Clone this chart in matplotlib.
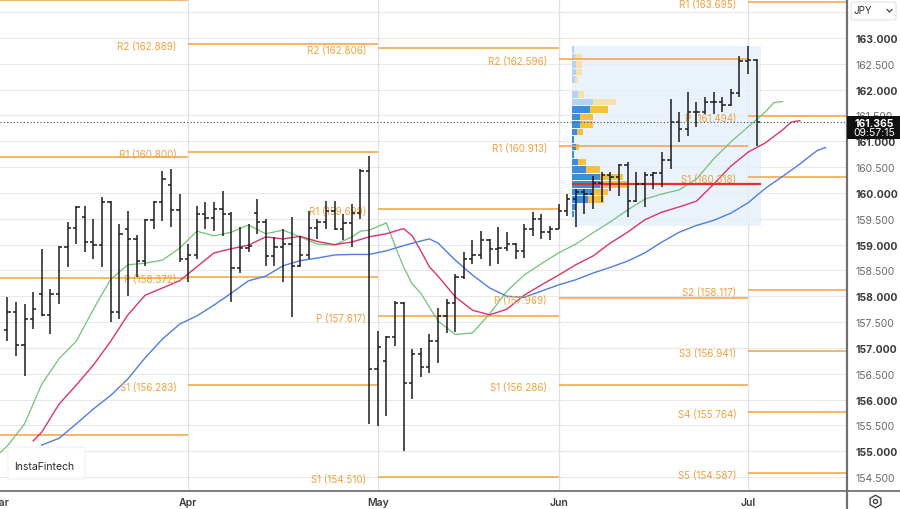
import numpy as np
import matplotlib
matplotlib.use('Agg')
import matplotlib.pyplot as plt
from matplotlib.patches import Rectangle, FancyBboxPatch
from matplotlib.lines import Line2D
import matplotlib.transforms as mtransforms

plt.rcParams['font.family'] = ['Inter', 'DejaVu Sans']

# ---------------- data ----------------
months = ['Mar', 'Apr', 'May', 'Jun', 'Jul']
month_idx = [-1, 21, 43, 64, 86]

opens = [157.35, 157.69, 157.06, 157.56, 158.04, 157.64, 158.04, 158.95, 159.32, 159.53,
         159.06, 158.99, 159.83, 157.69, 159.30, 159.11, 158.69, 159.48, 159.82, 160.15,
         159.67, 158.72, 158.79, 159.59, 159.51, 159.68, 159.59, 158.54, 158.93, 159.61,
         159.44, 158.77, 158.95, 159.01, 158.59, 158.80, 159.32, 159.44, 159.65, 159.30,
         159.41, 159.61, 160.43, 156.59, 156.75, 157.22, 157.87, 156.33, 156.88, 156.64,
         157.14, 157.61, 157.86, 158.37, 158.72, 158.79, 159.08, 158.92, 158.93, 159.01,
         158.88, 159.30, 159.50, 159.25, 159.30, 159.66, 159.88, 160.01, 159.98, 160.19,
         160.35, 160.31, 160.54, 159.84, 160.18, 160.35, 160.39, 160.63, 161.37, 161.24,
         161.56, 161.56, 161.76, 161.76, 161.70, 161.93, 162.55, 162.57]
highs = [157.99, 157.89, 157.85, 158.09, 158.92, 158.14, 158.98, 159.43, 159.75, 159.75,
         159.50, 159.92, 159.85, 159.40, 159.66, 159.19, 159.50, 159.85, 160.43, 160.46,
         159.98, 159.01, 159.75, 159.82, 159.82, 160.04, 159.63, 159.34, 159.40, 159.88,
         159.50, 159.15, 159.30, 159.53, 159.17, 159.66, 159.50, 159.85, 159.85, 159.59,
         159.79, 160.46, 160.72, 157.33, 157.24, 157.91, 157.88, 156.98, 156.99, 157.27,
         157.77, 157.95, 158.43, 158.85, 159.08, 159.27, 159.11, 159.34, 159.24, 159.04,
         159.40, 159.63, 159.59, 159.37, 159.79, 159.98, 160.08, 160.08, 160.33, 160.40,
         160.40, 160.56, 160.59, 160.40, 160.40, 160.40, 160.79, 161.82, 161.56, 161.95,
         161.76, 161.85, 161.95, 161.85, 162.01, 162.66, 162.85, 162.59]
lows = [157.13, 156.84, 156.46, 157.37, 157.62, 157.27, 157.85, 158.56, 159.01, 158.85,
        158.72, 158.56, 157.50, 157.56, 158.01, 158.37, 158.59, 159.30, 159.46, 159.34,
        158.66, 158.27, 158.72, 159.30, 159.27, 159.17, 157.88, 158.46, 158.85, 159.21,
        158.59, 158.59, 158.27, 157.59, 158.56, 158.72, 159.11, 159.30, 159.29, 159.08,
        158.95, 159.50, 155.53, 155.49, 155.69, 157.04, 155.01, 156.01, 156.43, 156.51,
        156.71, 157.28, 157.30, 158.33, 158.62, 158.72, 158.59, 158.62, 158.88, 158.72,
        158.75, 159.17, 159.11, 159.08, 159.30, 159.56, 159.35, 159.59, 159.69, 159.82,
        160.04, 159.95, 159.53, 159.82, 159.72, 160.08, 160.11, 160.46, 160.98, 161.11,
        161.27, 161.53, 161.53, 161.56, 161.69, 161.85, 162.30, 160.91]
closes = [157.69, 157.06, 157.56, 157.75, 157.64, 158.04, 158.95, 159.32, 159.72, 159.06,
          158.99, 159.83, 157.69, 159.21, 159.11, 158.69, 159.48, 159.82, 160.27, 159.67,
          158.72, 158.79, 159.59, 159.51, 159.68, 159.59, 158.54, 158.93, 158.97, 159.44,
          158.77, 158.95, 159.01, 158.59, 158.80, 159.32, 159.44, 159.65, 159.30, 159.41,
          159.61, 160.43, 156.59, 157.01, 157.22, 157.87, 156.33, 156.88, 156.64, 157.14,
          157.61, 157.86, 158.37, 158.72, 158.79, 159.08, 158.92, 158.93, 159.01, 158.88,
          159.30, 159.50, 159.25, 159.30, 159.66, 159.88, 160.01, 159.98, 160.19, 160.35,
          160.31, 160.54, 159.84, 160.18, 160.35, 160.39, 160.63, 161.37, 161.24, 161.56,
          161.56, 161.76, 161.76, 161.70, 161.93, 162.55, 162.57, 161.365]

green_idx = [-1, 0, 2, 4, 6, 8, 10, 12, 14, 16, 18, 20, 22, 24, 26, 28, 30, 32, 34, 36,
             38, 40, 41, 42, 44, 45, 46, 47, 48, 50, 52, 54, 56, 58, 60, 62, 64, 66, 68, 70,
             72, 74, 76, 78, 80, 82, 84, 86, 88, 89, 90]
green_val = [154.95, 155.10, 155.53, 156.30, 156.79, 157.13, 157.75, 158.33, 158.61, 158.64,
             158.70, 158.93, 159.26, 159.17, 159.24, 159.38, 159.21, 159.28, 159.15, 159.01,
             158.99, 159.15, 159.26, 159.28, 159.42, 158.98, 158.57, 158.24, 158.06, 157.52,
             157.26, 157.29, 157.66, 158.10, 158.41, 158.63, 158.84, 159.01, 159.23, 159.44,
             159.67, 159.88, 159.98, 160.06, 160.27, 160.66, 160.99, 161.28, 161.57, 161.75,
             161.77]
red_idx = [3, 4, 6, 8, 10, 12, 14, 16, 18, 20, 22, 24, 26, 28, 30, 32, 34, 36, 38, 40,
           42, 44, 46, 47, 48, 49, 50, 52, 54, 56, 58, 60, 62, 64, 66, 68, 70, 72, 74, 76,
           78, 80, 82, 84, 86, 88, 90, 91, 92]
red_val = [155.20, 155.37, 155.91, 156.28, 156.67, 157.13, 157.64, 158.02, 158.16, 158.30,
           158.57, 158.84, 158.92, 158.99, 159.15, 159.11, 159.16, 159.06, 159.00, 159.05,
           159.15, 159.21, 159.31, 159.17, 158.88, 158.57, 158.39, 157.99, 157.73, 157.64,
           157.75, 158.02, 158.22, 158.41, 158.61, 158.78, 159.03, 159.24, 159.48, 159.63,
           159.73, 159.84, 160.17, 160.52, 160.79, 160.97, 161.22, 161.37, 161.40]
blue_idx = [4, 6, 8, 10, 12, 14, 16, 18, 20, 22, 24, 26, 28, 30, 32, 34, 36, 38, 40, 42,
            44, 46, 48, 49, 50, 52, 54, 56, 58, 60, 62, 64, 66, 68, 70, 72, 74, 76, 78, 80,
            82, 84, 86, 88, 90, 92, 94, 95]
blue_val = [155.12, 155.25, 155.53, 155.82, 156.08, 156.40, 156.81, 157.17, 157.46, 157.62,
            157.83, 158.06, 158.30, 158.39, 158.59, 158.69, 158.74, 158.80, 158.81, 158.81,
            158.88, 158.98, 159.07, 159.11, 159.03, 158.70, 158.41, 158.16, 158.00, 157.98,
            158.10, 158.22, 158.32, 158.45, 158.56, 158.68, 158.84, 159.05, 159.24, 159.37,
            159.47, 159.61, 159.81, 160.09, 160.32, 160.56, 160.82, 160.88]

# monthly pivot levels
mar_levels = [163.745, 160.70, 158.36, 155.31]
apr_names = ['R2', 'R1', 'P', 'S1']
apr_levels = [162.889, 160.800, 158.372, 156.283]
may_names = ['R2', 'R1', 'P', 'S1']
may_levels = [162.806, 159.699, 157.617, 154.510]
jun_names = ['R2', 'R1', 'P', 'S1']
jun_levels = [162.596, 160.913, 157.969, 156.286]
jul_names = ['R1', 'P', 'S1', 'S2', 'S3', 'S4', 'S5']
jul_levels = [163.695, 161.494, 160.318, 158.117, 156.941, 155.764, 154.587]

# volume profile (June): buy / sell volume per price row (top to bottom)
vp_high, vp_low = 162.85, 159.37
vp_buy = [2.3, 3.3, 4.3, 4.3, 3.3, 0, 6.7, 21.7, 18.3, 8.3, 8.3, 5.0, 2.3, 4.3, 2.3, 6.7,
          14.3, 28.3, 28.3, 21.7, 16.7, 4.3, 2.3, 0]
vp_sell = [0, 6.7, 5.7, 5.7, 3.3, 0, 5.7, 22.7, 18.3, 12.7, 12.7, 6.0, 0, 2.7, 0, 7.7,
           14.0, 22.7, 26.7, 14.3, 16.0, 0, 0, 0]
vp_poc = 160.168
vp_start, vp_end = 65.5, 87.5

last_price = 161.365
last_time = '09:57:15'
price_ticks = np.arange(154.5, 163.01, 0.5)

# ---------------- figure ----------------
W, H = 900, 510
fig = plt.figure(figsize=(9, 5.1), dpi=100)
ax_bottom_px = 492
ax_right_px = 847
ax = fig.add_axes([0, (H - ax_bottom_px) / H, ax_right_px / W, ax_bottom_px / H])
xmin, xmax = -0.85, 97.48
ax.set_xlim(xmin, xmax)
ax.set_ylim(154.23, 163.755)

# grid
for p in np.arange(154.5, 163.51, 0.5):
    ax.axhline(p, color='#e8e8e8', lw=0.8, zorder=0)
for m in month_idx[1:]:
    ax.axvline(m, color='#e1e1e1', lw=0.9, zorder=0)

# volume profile background box
ax.add_patch(Rectangle((vp_start, vp_low), vp_end - vp_start, vp_high - vp_low,
                       facecolor='#e4effa', edgecolor='none', alpha=0.75, zorder=0.5))
nrows = len(vp_buy)
edges = np.linspace(vp_high, vp_low, nrows + 1)
centers = (edges[:-1] + edges[1:]) / 2
rowh = (vp_high - vp_low) / nrows * 0.86
px_per_bar = 8.614
buy_w = np.array(vp_buy) / px_per_bar
sell_w = np.array(vp_sell) / px_per_bar
value_area = np.arange(nrows) >= 8
buy_c = ['#3a8ee0' if v else '#b3d3f2' for v in value_area]
sell_c = ['#f6c042' if v else '#f6e1ad' for v in value_area]
ax.barh(centers, buy_w, left=vp_start, height=rowh, color=buy_c, zorder=1)
ax.barh(centers, sell_w, left=vp_start + buy_w, height=rowh, color=sell_c, zorder=1)
ax.hlines(vp_poc, vp_start, vp_end, color='#e3302b', lw=1.6, zorder=3.6)

# pivot levels
pivot_color = '#f3a33f'
label_color = '#eea13d'
bounds = month_idx[1:] + [xmax]
ax.hlines(mar_levels, xmin, month_idx[1], color=pivot_color, lw=1.1, zorder=2)
segs = [(apr_names, apr_levels), (may_names, may_levels), (jun_names, jun_levels),
        (jul_names, jul_levels)]
for k, (names, levels) in enumerate(segs):
    s, e = bounds[k], bounds[k + 1]
    ax.hlines(levels, s, e, color=pivot_color, lw=1.1, zorder=2)
    for n, v in zip(names, levels):
        ax.annotate(f'{n} ({v:.3f})', xy=(s, v), xytext=(-8.3, -1.5),
                    textcoords='offset points', ha='right', va='center',
                    fontsize=7, color=label_color, zorder=3.5)

# moving averages
ax.plot(green_idx, green_val, color='#74c276', lw=0.9, zorder=3)
ax.plot(red_idx, red_val, color='#d9356a', lw=1.0, zorder=3)
ax.plot(blue_idx, blue_val, color='#4d7fe3', lw=1.0, zorder=3)

# OHLC bars
x = np.arange(len(closes))
bar_c = '#1c1c1c'
tick = 0.38
ax.vlines(x, lows, highs, color=bar_c, lw=1.1, zorder=4)
ax.hlines(opens, x - tick, x, color=bar_c, lw=1.1, zorder=4)
ax.hlines(closes, x, x + tick, color=bar_c, lw=1.1, zorder=4)

# current price dotted line
ax.axhline(last_price, color='#4a4a4a', lw=0.8, ls=(0, (1, 2)), zorder=6)

# axes styling
for sp in ['top', 'left']:
    ax.spines[sp].set_visible(False)
ax.spines['right'].set_color('#707070')
ax.spines['right'].set_linewidth(1.6)
ax.spines['bottom'].set_color('#5a5a5a')
ax.spines['bottom'].set_linewidth(1.1)

ax.yaxis.tick_right()
ax.set_yticks(price_ticks)
ax.set_yticklabels([f'{p:.3f}' for p in price_ticks])
ax.tick_params(axis='y', length=0, pad=6, labelsize=7.5, labelcolor='#6a6a6a')
for lab, p in zip(ax.get_yticklabels(), price_ticks):
    if abs(p - round(p)) < 1e-6:
        lab.set_fontweight('bold')
        lab.set_color('#3a3a3a')
ax.set_xticks([])

trans = mtransforms.blended_transform_factory(ax.transData, ax.transAxes)
for m, name in zip(month_idx, months):
    ax.text(m, -11 / ax_bottom_px, name, transform=trans, ha='center', va='center',
            fontsize=7.5, color='#3a3a3a', fontweight='semibold', clip_on=False)

# figure-level extensions of the axis lines
fig.add_artist(Line2D([ax_right_px / W, 1], [(H - ax_bottom_px) / H] * 2,
                      color='#5a5a5a', lw=1.1, transform=fig.transFigure))
fig.add_artist(Line2D([ax_right_px / W] * 2, [0, (H - ax_bottom_px) / H],
                      color='#707070', lw=1.6, transform=fig.transFigure))

# last price box
def fy(py):
    return (H - py) / H

fig.add_artist(Rectangle((ax_right_px / W, fy(139.5)), (W - ax_right_px) / W,
                         (139.5 - 116.5) / H, facecolor='#111111', edgecolor='none',
                         transform=fig.transFigure, zorder=10))
fig.text(874 / W, fy(124), f'{last_price:.3f}', color='white', fontsize=7.5,
         fontweight='bold', ha='center', va='center', zorder=11)
fig.text(874 / W, fy(133.5), last_time, color='white', fontsize=7.5,
         ha='center', va='center', zorder=11)

# currency selector
fig.add_artist(FancyBboxPatch((851 / W, fy(21)), 45 / W, 18 / H,
                              boxstyle='round,pad=0,rounding_size=0.004',
                              facecolor='white', edgecolor='#e2e2e2', lw=0.8,
                              transform=fig.transFigure, zorder=10))
fig.text(853 / W, fy(11.5), 'JPY', fontsize=7, color='#333333', ha='left', va='center',
         zorder=11)
fig.add_artist(Line2D([887 / W, 889.5 / W, 892 / W], [fy(10.5), fy(13), fy(10.5)],
                      color='#444444', lw=0.9, transform=fig.transFigure, zorder=11))

# settings icon
fig.add_artist(Line2D([875 / W], [fy(502)], marker='h', markersize=9,
                      markerfacecolor='none', markeredgecolor='#444444', mew=1.0,
                      transform=fig.transFigure))
fig.add_artist(Line2D([875 / W], [fy(502)], marker='o', markersize=3,
                      markerfacecolor='none', markeredgecolor='#444444', mew=1.0,
                      transform=fig.transFigure))

# watermark logo
fig.add_artist(FancyBboxPatch((8 / W, fy(480)), 77 / W, 32 / H,
                              boxstyle='round,pad=0,rounding_size=0.003',
                              facecolor='white', edgecolor='#eeeeee', lw=0.8, alpha=0.9,
                              transform=fig.transFigure, zorder=9))
fig.text(14 / W, fy(467), 'InstaFintech', fontsize=7.5, color='#2a2a2a',
         ha='left', va='center', zorder=10)

fig.savefig('out.png', dpi=100)
